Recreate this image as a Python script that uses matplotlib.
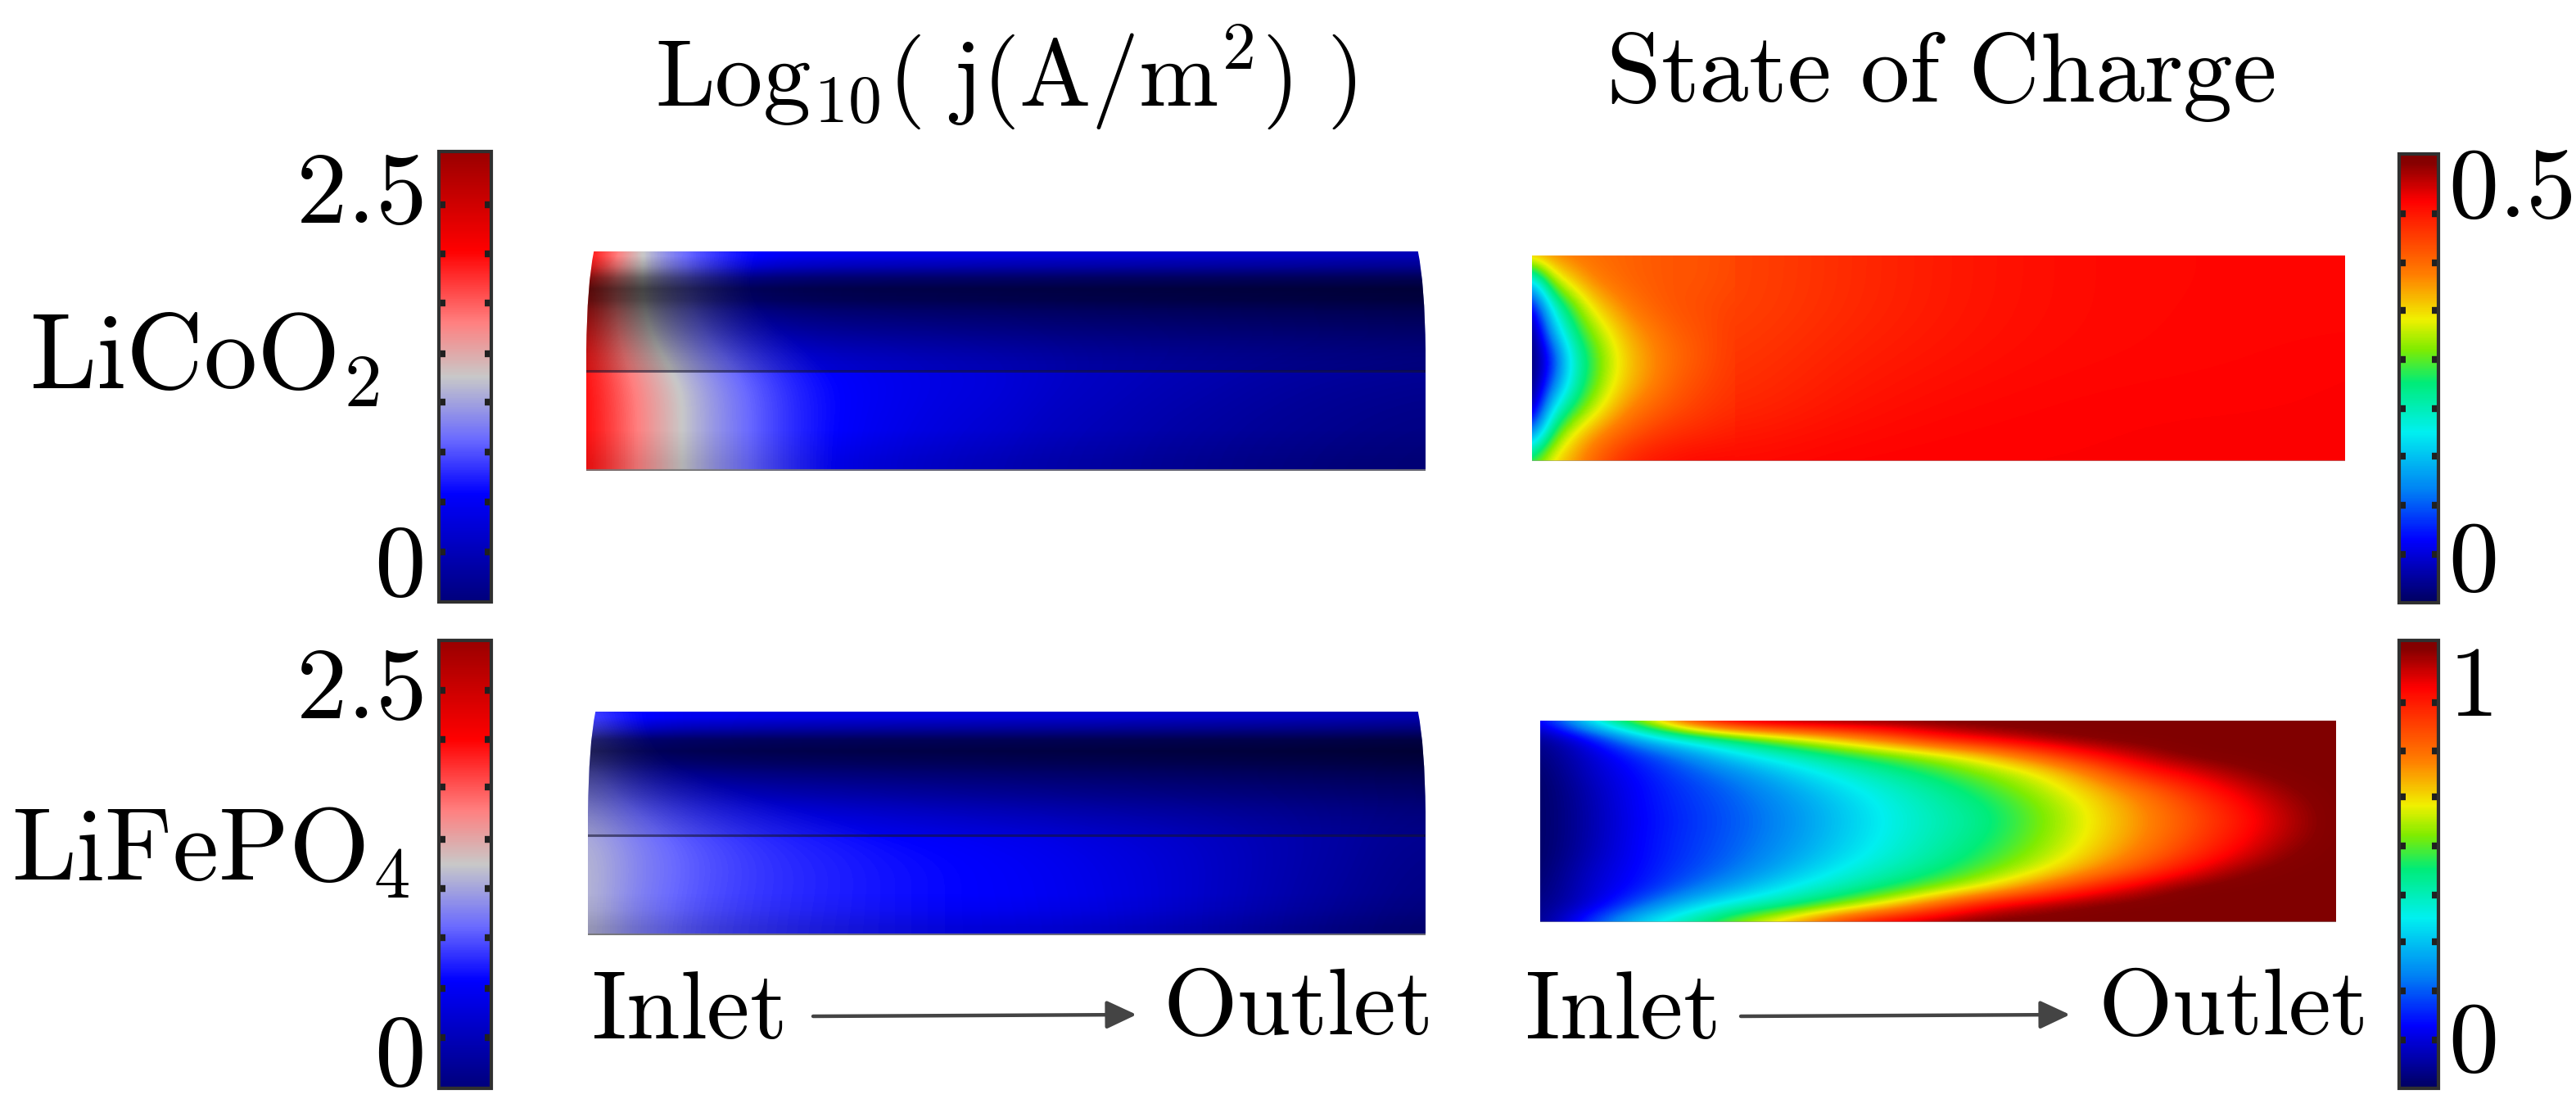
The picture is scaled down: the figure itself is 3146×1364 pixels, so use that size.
import numpy as np
import matplotlib
matplotlib.use("Agg")
import matplotlib.pyplot as plt
from matplotlib.cm import ScalarMappable
from matplotlib.colors import LinearSegmentedColormap, Normalize
from matplotlib.patches import PathPatch, Rectangle
from matplotlib.path import Path

plt.rcParams['mathtext.fontset'] = 'cm'

W, H = 3146, 1364

# --- Labels ---
TITLE_J = r'$\mathrm{Log_{10}(\ j(A/m^2)\ )}$'
TITLE_SOC = r'$\mathrm{State\ of\ Charge}$'
ROW_LICOO2 = r'$\mathrm{LiCoO_2}$'
ROW_LIFEPO4 = r'$\mathrm{LiFePO_4}$'

# --- Colorbar ranges and notches ---
J_TOP_RANGE = (-0.236, 2.787)
J_TOP_TICKS = [0.10, 0.435, 0.77, 1.105, 1.43, 1.77, 2.10, 2.43]
J_BOT_RANGE = (-0.217, 2.836)
J_BOT_TICKS = [0.127, 0.463, 0.808, 1.143, 1.479, 1.839, 2.163, 2.495]
SOC_TOP_RANGE = (-0.053, 0.548)
SOC_TOP_TICKS = [0.012, 0.078, 0.143, 0.207, 0.273, 0.339, 0.402, 0.468]
SOC_BOT_RANGE = (-0.126, 1.134)
SOC_BOT_TICKS = [0.01, 0.149, 0.286, 0.417, 0.556, 0.694, 0.823, 0.96]

# --- Current density fields, rows top to bottom, columns inlet to outlet ---
J_TOP = [
    [2.2, 1.45, .95, .7, .5, .42, .4, .38, .36, .34, .32, .3, .28, .26, .24, .22, .2, .18, .16, .14, .12],
    [2.15, 1.4, .95, .65, .45, .32, .24, .2, .18, .16, .14, .12, .1, .08, .06, .04, .02, 0, -.02, -.04, -.05],
    [2.1, 1.5, 1.1, .8, .6, .48, .4, .36, .32, .28, .24, .2, .16, .14, .12, .1, .08, .06, .04, .02, 0],
    [2.12, 1.7, 1.36, 1.06, .82, .62, .5, .44, .38, .34, .3, .22, .17, .13, .08, .04, -.01, -.05, -.08, -.1, -.12],
    [2.12, 1.72, 1.36, 1.06, .82, .62, .49, .4, .33, .27, .22, .14, .1, .05, 0, -.04, -.08, -.11, -.14, -.17, -.19],
    [2.12, 1.72, 1.36, 1.06, .82, .62, .48, .38, .3, .24, .18, .12, .08, .03, -.02, -.06, -.1, -.14, -.17, -.19, -.2],
]
J_BOT = [
    [.75, .55, .45, .4, .38, .36, .35, .34, .33, .32, .3, .29, .28, .26, .24, .22, .2, .18, .16, .13, .1],
    [.9, .6, .45, .38, .32, .28, .25, .22, .2, .18, .16, .14, .12, .1, .07, .05, .02, 0, -.03, -.07, -.1],
    [1.05, .85, .72, .62, .55, .5, .45, .4, .35, .3, .26, .22, .18, .15, .12, .09, .06, .03, 0, -.03, -.05],
    [1.25, 1.05, .9, .8, .72, .66, .62, .58, .55, .52, .48, .44, .38, .33, .27, .2, .13, .06, 0, -.08, -.12],
    [1.25, 1.02, .88, .78, .71, .66, .62, .58, .55, .52, .49, .45, .4, .34, .27, .19, .11, .03, -.04, -.11, -.16],
    [1.25, 1.0, .86, .76, .7, .65, .61, .58, .55, .52, .5, .46, .41, .35, .27, .18, .09, 0, -.08, -.15, -.2],
]
# darkening of the curved upper face and of the flat lower face, top to bottom
SHADE_TOP_UPPER = [0, .2, .5, .66, .62, .5, .42, .35, .28, .22, .18]
SHADE_TOP_LOWER = [0, 0, 0, 0, .05, .1]
SHADE_BOT_UPPER = [0, .25, .58, .66, .58, .46, .36, .28, .2, .14, .1]
SHADE_BOT_LOWER = [0, 0, 0, 0, .05, .15]

# --- State of charge, LiCoO2: narrow inlet part, then the rest of the channel ---
SOC_TOP_INLET = [
    [.37, .385, .395, .40, .405, .41, .415, .42, .42, .425, .43],
    [.15, .30, .35, .385, .40, .41, .415, .42, .42, .425, .43],
    [.01, .19, .27, .335, .37, .395, .41, .42, .425, .43, .435],
    [-.05, .13, .23, .29, .335, .37, .39, .41, .42, .43, .44],
    [-.05, .04, .19, .26, .315, .355, .38, .40, .415, .43, .44],
    [-.05, .08, .20, .27, .325, .36, .385, .41, .425, .435, .445],
    [-.03, .18, .25, .31, .355, .39, .41, .425, .435, .445, .45],
    [.10, .26, .335, .375, .405, .425, .44, .45, .455, .46, .465],
    [.27, .34, .37, .41, .44, .46, .47, .475, .48, .48, .48],
]
SOC_TOP_BODY = [
    [.43, .45, .465, .475, .48, .48, .48],
    [.43, .45, .465, .475, .48, .48, .48],
    [.44, .46, .47, .478, .48, .482, .485],
    [.45, .47, .48, .483, .485, .485, .485],
    [.48, .485, .485, .485, .485, .485, .485],
]

# --- State of charge, LiFePO4 ---
SOC_BOT = [
    [.02, .39, .62, .92, 1.09, 1.13, 1.134, 1.134, 1.134, 1.134, 1.134, 1.134, 1.134, 1.134, 1.134, 1.134, 1.134],
    [-.08, .045, .28, .43, .535, .64, .75, .86, .985, 1.047, 1.097, 1.125, 1.134, 1.134, 1.134, 1.134, 1.134],
    [-.1, 0, .098, .21, .34, .42, .50, .57, .64, .74, .865, .99, 1.065, 1.125, 1.134, 1.134, 1.134],
    [-.12, -.01, .065, .14, .217, .308, .388, .456, .527, .60, .678, .803, .956, 1.03, 1.097, 1.13, 1.134],
    [-.126, -.03, .056, .113, .17, .244, .326, .396, .46, .537, .621, .716, .825, .933, 1.03, 1.107, 1.134],
    [-.126, -.04, .055, .105, .155, .216, .294, .368, .43, .492, .58, .675, .775, .878, .98, 1.076, 1.134],
    [-.126, -.042, .05, .10, .15, .208, .286, .361, .42, .478, .568, .665, .764, .861, .959, 1.061, 1.134],
    [-.126, -.04, .055, .105, .155, .216, .294, .368, .43, .492, .58, .675, .775, .878, .98, 1.076, 1.134],
    [-.126, -.03, .055, .11, .165, .233, .314, .385, .447, .52, .605, .703, .808, .913, 1.017, 1.11, 1.134],
    [-.12, -.01, .06, .125, .188, .274, .36, .425, .489, .573, .662, .772, .884, 1.0, 1.10, 1.13, 1.134],
    [-.11, 0, .07, .165, .26, .356, .43, .50, .59, .685, .82, .95, 1.05, 1.13, 1.134, 1.134, 1.134],
    [-.09, 0, .15, .30, .40, .47, .57, .695, .85, 1.005, 1.075, 1.12, 1.134, 1.134, 1.134, 1.134, 1.134],
    [-.09, .11, .33, .45, .61, .75, .93, 1.04, 1.10, 1.134, 1.134, 1.134, 1.134, 1.134, 1.134, 1.134, 1.134],
]

# --- Colormaps ---
J_STOPS = [(0, '#00007c'), (.24, '#0000ff'), (.36, '#6a6aff'), (.5, '#c8c8c8'),
           (.62, '#ff8080'), (.78, '#ff0000'), (1, '#9a0000')]
SOC_STOPS = [(0, '#000060'), (.139, '#0000ff'), (.249, '#0080f4'), (.38, '#00f0f0'), (.49, '#00ec78'),
             (.565, '#80ec00'), (.632, '#f0f000'), (.73, '#ff8000'), (.896, '#ff0000'), (.98, '#880000'),
             (1, '#800000')]
j_cmap = LinearSegmentedColormap.from_list('j_wave', J_STOPS)
soc_cmap = LinearSegmentedColormap.from_list('soc_rainbow', SOC_STOPS)
shade_cmap = LinearSegmentedColormap.from_list('shade', [(0, 0, 0, 0), (0, 0, 0, 1)])

fig = plt.figure(figsize=(W / 100, H / 100), dpi=100, facecolor='white')


def px_axes(x0, y0, x1, y1):
    return fig.add_axes([x0 / W, 1 - y1 / H, (x1 - x0) / W, (y1 - y0) / H])


def grid_image(ax, values, cmap, lo, hi, x0=0, x1=1, y0=0, y1=1):
    # grid values sit on the pixel centres, so the edge rows land on the box edge
    values = np.array(values, dtype=float)
    ny, nx = values.shape
    dx = (x1 - x0) / max(nx - 1, 1)
    dy = (y1 - y0) / max(ny - 1, 1)
    im = ax.imshow(values, cmap=cmap, vmin=lo, vmax=hi, aspect='auto',
                   interpolation='bicubic', interpolation_stage='data',
                   extent=(x0 - dx / 2, x1 + dx / 2, y1 + dy / 2, y0 - dy / 2))
    im.set_clip_path(Rectangle((x0, y0), x1 - x0, y1 - y0, transform=ax.transData))
    return im


def setup_panel(box):
    ax = px_axes(*box)
    ax.set_axis_off()
    ax.set_xlim(0, 1)
    ax.set_ylim(1, 0)
    return ax


def j_panel(box, field, rng, seam, shade_upper, shade_lower):
    ax = setup_panel(box)
    # the 3D channel has rounded shoulders at the top corners
    outline = Path([(0, 1), (0, .45), (.001, .15), (.009, 0), (.991, 0), (.999, .15), (1, .45), (1, 1), (0, 1)],
                   [Path.MOVETO, Path.LINETO, Path.CURVE3, Path.CURVE3, Path.LINETO,
                    Path.CURVE3, Path.CURVE3, Path.LINETO, Path.CLOSEPOLY])
    clip = PathPatch(outline, transform=ax.transData, facecolor='none', edgecolor='none')
    ax.add_patch(clip)
    base = grid_image(ax, field, j_cmap, *rng)
    base.set_clip_path(clip)
    upper = np.array(shade_upper)[:, None]
    lower = np.array(shade_lower)[:, None]
    for shade, y0, y1 in [(upper, 0, seam), (lower, seam, 1)]:
        im = ax.imshow(shade, cmap=shade_cmap, vmin=0, vmax=1, aspect='auto', interpolation='bilinear',
                       extent=(0, 1, y1, y0))
        im.set_clip_path(clip)
    ax.set_xlim(0, 1)
    ax.set_ylim(1, 0)
    ax.axhline(seam, color='#151530', lw=2.2, alpha=.6)
    ax.axhline(1, color='#777777', lw=3, alpha=.9)
    return ax


def colorbar(box, cmap, rng, ticks, labels, side):
    cax = px_axes(*box)
    sm = ScalarMappable(norm=Normalize(*rng), cmap=cmap)
    cb = fig.colorbar(sm, cax=cax)
    cb.set_ticks(ticks)
    cb.minorticks_off()
    cb.outline.set_edgecolor('#303030')
    cb.outline.set_linewidth(3)
    cax.tick_params(left=True, right=True, direction='in', length=6, width=6, color='#202020',
                    labelleft=False, labelright=False)
    trans = cax.get_yaxis_transform()
    for val, txt in labels:
        if side == 'left':
            cax.text(-.3, val, '$' + txt + '$', transform=trans, ha='right', va='center', fontsize=90)
        else:
            cax.text(1.25, val, '$' + txt + '$', transform=trans, ha='left', va='center', fontsize=88)


# --- Current density panels ---
j_panel((716, 307, 1741, 575), J_TOP, J_TOP_RANGE, .545, SHADE_TOP_UPPER, SHADE_TOP_LOWER)
j_panel((718, 869, 1741, 1142), J_BOT, J_BOT_RANGE, .553, SHADE_BOT_UPPER, SHADE_BOT_LOWER)

# --- State of charge panels ---
ax = setup_panel((1871, 312, 2864, 563))
grid_image(ax, SOC_TOP_INLET, soc_cmap, *SOC_TOP_RANGE, x1=.25)
grid_image(ax, SOC_TOP_BODY, soc_cmap, *SOC_TOP_RANGE, x0=.25)
ax.set_xlim(0, 1)
ax.set_ylim(1, 0)
ax.axhline(1, color='#999999', lw=2, alpha=.6)

ax = setup_panel((1881, 880, 2853, 1126))
grid_image(ax, SOC_BOT, soc_cmap, *SOC_BOT_RANGE)
ax.set_xlim(0, 1)
ax.set_ylim(1, 0)
ax.axhline(1, color='#999999', lw=2, alpha=.6)

# --- Colorbars ---
colorbar((536, 185, 600, 735), j_cmap, J_TOP_RANGE, J_TOP_TICKS, [(2.5, '2.5'), (0, '0')], 'left')
colorbar((536, 782, 600, 1329), j_cmap, J_BOT_RANGE, J_BOT_TICKS, [(2.5, '2.5'), (0, '0')], 'left')
colorbar((2930, 188, 2978, 736), soc_cmap, SOC_TOP_RANGE, SOC_TOP_TICKS, [(.5, '0.5'), (0, '0')], 'right')
colorbar((2930, 782, 2978, 1329), soc_cmap, SOC_BOT_RANGE, SOC_BOT_TICKS, [(1, '1'), (0, '0')], 'right')

# --- Text and arrows, drawn in image pixels ---
over = fig.add_axes([0, 0, 1, 1], zorder=5)
over.set_axis_off()
over.patch.set_alpha(0)
over.set_xlim(0, W)
over.set_ylim(H, 0)

over.text(1228, 130, TITLE_J, ha='center', va='baseline', fontsize=84)
over.text(2370, 124, TITLE_SOC, ha='center', va='baseline', fontsize=87)
over.text(36, 474, ROW_LICOO2, ha='left', va='baseline', fontsize=94)
over.text(14, 1075, ROW_LIFEPO4, ha='left', va='baseline', fontsize=91)

for inlet_x, outlet_x, start, end in [(722, 1420, 993, 1388), (1862, 2562, 2126, 2528)]:
    over.text(inlet_x, 1268, r'$\mathrm{Inlet}$', ha='left', va='baseline', fontsize=85)
    over.text(outlet_x, 1263, r'$\mathrm{Outlet}$', ha='left', va='baseline', fontsize=84)
    over.annotate('', xy=(end, 1239), xytext=(start, 1241),
                  arrowprops=dict(arrowstyle='-|>,head_length=1.6,head_width=.75', color='#444444', lw=3.2,
                                  shrinkA=0, shrinkB=0, mutation_scale=14))

fig.savefig('out.png', dpi=100, facecolor='white')
